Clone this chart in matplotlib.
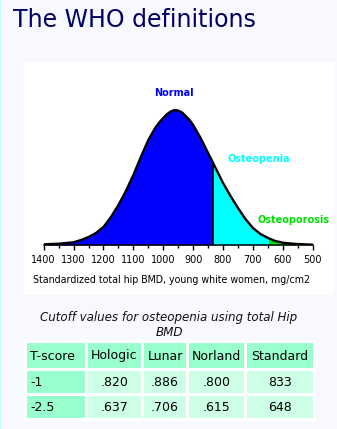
import numpy as np
import matplotlib
matplotlib.use('Agg')
import matplotlib.pyplot as plt
from matplotlib.patches import Rectangle

# ---------------- data ----------------
title = "The WHO definitions"
bmd = [1400, 1375, 1350, 1325, 1300, 1275, 1250, 1225, 1200, 1175, 1150, 1125,
       1100, 1075, 1050, 1025, 1012, 1000, 987, 975, 962, 950, 937, 925, 912,
       900, 875, 850, 833, 825, 800, 775, 750, 725, 700, 675, 648, 625, 600,
       575, 550, 525, 500]
density = [0.7, 1.0, 1.3, 2.0, 2.7, 5, 8, 12, 18, 28, 40, 54,
           70, 88, 105, 118, 123, 127, 131, 133.5, 135, 134.5, 132.5, 129, 125,
           120, 107, 92, 82, 77, 62, 49, 37, 26, 17, 11, 6.8, 4, 2.3,
           1.5, 1.0, 0.6, 0.3]
osteopenia_cutoff = 833
osteoporosis_cutoff = 648
x_ticks = [1400, 1300, 1200, 1100, 1000, 900, 800, 700, 600, 500]
x_label = "Standardized total hip BMD, young white women, mg/cm2"
region_labels = ["Normal", "Osteopenia", "Osteoporosis"]
caption_lines = ["Cutoff values for osteopenia using total Hip", "BMD"]
table_columns = ["T-score", "Hologic", "Lunar", "Norland", "Standard"]
t_scores = ["-1", "-2.5"]
hologic = [".820", ".637"]
lunar = [".886", ".706"]
norland = [".800", ".615"]
standard = ["833", "648"]

# ---------------- figure ----------------
W, H = 337, 429
fig = plt.figure(figsize=(W / 100, H / 100), dpi=100)
fig.patch.set_facecolor('#f8f8ff')

bg = fig.add_axes([0, 0, 1, 1])
bg.set_xlim(0, W)
bg.set_ylim(H, 0)
bg.axis('off')
bg.add_patch(Rectangle((0, 0), 1, H, color='#c4ffff', lw=0))
bg.add_patch(Rectangle((24, 62), 310, 233, color='white', lw=0))
bg.text(13, 27, title, fontsize=17, color='#000066', va='baseline', ha='left')

# chart axes in pixel layout
x0, x1, base, top = 43.7, 312.7, 245, 65
ax = fig.add_axes([x0 / W, 1 - base / H, (x1 - x0) / W, (base - top) / H])
ax.set_xlim(1400, 500)
ax.set_ylim(0, base - top)
ax.patch.set_alpha(0)

b = np.array(bmd, dtype=float)
d = np.array(density, dtype=float)
ax.fill_between(b, d, where=b >= osteopenia_cutoff, color='#0000ff', lw=0)
ax.fill_between(b, d, where=(b <= osteopenia_cutoff) & (b >= osteoporosis_cutoff),
                color='#00ffff', lw=0)
ax.fill_between(b, d, where=b <= osteoporosis_cutoff, color='#00e000', lw=0)
ax.plot(b, d, color='black', lw=1.7, solid_joinstyle='round')
ax.vlines(osteopenia_cutoff, 0, d[bmd.index(osteopenia_cutoff)], color='black', lw=1.1)

for s in ['left', 'right', 'top']:
    ax.spines[s].set_visible(False)
ax.spines['bottom'].set_linewidth(1.1)
ax.set_yticks([])
ax.set_xticks(x_ticks)
ax.set_xticks([t + 50 for t in x_ticks[1:]], minor=True)
ax.tick_params(axis='x', which='major', length=3.5, width=1, pad=4, labelsize=7)
ax.tick_params(axis='x', which='minor', length=2.5, width=1)

ax.text(964, 152, region_labels[0], color='#0000ff', fontsize=7, fontweight='bold',
        ha='center', va='center')
ax.text(680, 86, region_labels[1], color='#00ffff', fontsize=7, fontweight='bold',
        ha='center', va='center')
ax.text(565, 25, region_labels[2], color='#00e000', fontsize=7, fontweight='bold',
        ha='center', va='center', clip_on=False)

bg.text(33, 280, x_label, fontsize=6.85, ha='left', va='center', color='black')

# ---------------- caption & table ----------------
bg.text(169, 320.5, caption_lines[0], fontsize=8.6, style='italic', ha='center',
        va='baseline', color='#111111')
bg.text(169, 336, caption_lines[1], fontsize=8.6, style='italic', ha='center',
        va='baseline', color='#111111')

bg.add_patch(Rectangle((24, 340), 292, 81, color='white', lw=0))
col_edges = [(27, 85), (88, 141), (144, 186), (189, 244), (247, 313)]
row_edges = [(343, 368), (371, 393), (396, 418)]
head_col = '#99ffcc'
cell_col = '#ccffe5'

rows = [table_columns] + [[t_scores[i], hologic[i], lunar[i], norland[i], standard[i]]
                          for i in range(len(t_scores))]
for r, (ya, yb) in enumerate(row_edges):
    for c, (xa, xb) in enumerate(col_edges):
        fc = head_col if (r == 0 or c == 0) else cell_col
        bg.add_patch(Rectangle((xa, ya), xb - xa, yb - ya, color=fc, lw=0))
        txt = rows[r][c]
        yc = (ya + yb) / 2 + 0.5
        if c == 0:
            bg.text(xa + 3, yc, txt, fontsize=9, ha='left', va='center', color='black')
        else:
            bg.text((xa + xb) / 2, yc, txt, fontsize=9, ha='center', va='center',
                    color='black')

fig.savefig('out.png', dpi=100, facecolor=fig.get_facecolor())
